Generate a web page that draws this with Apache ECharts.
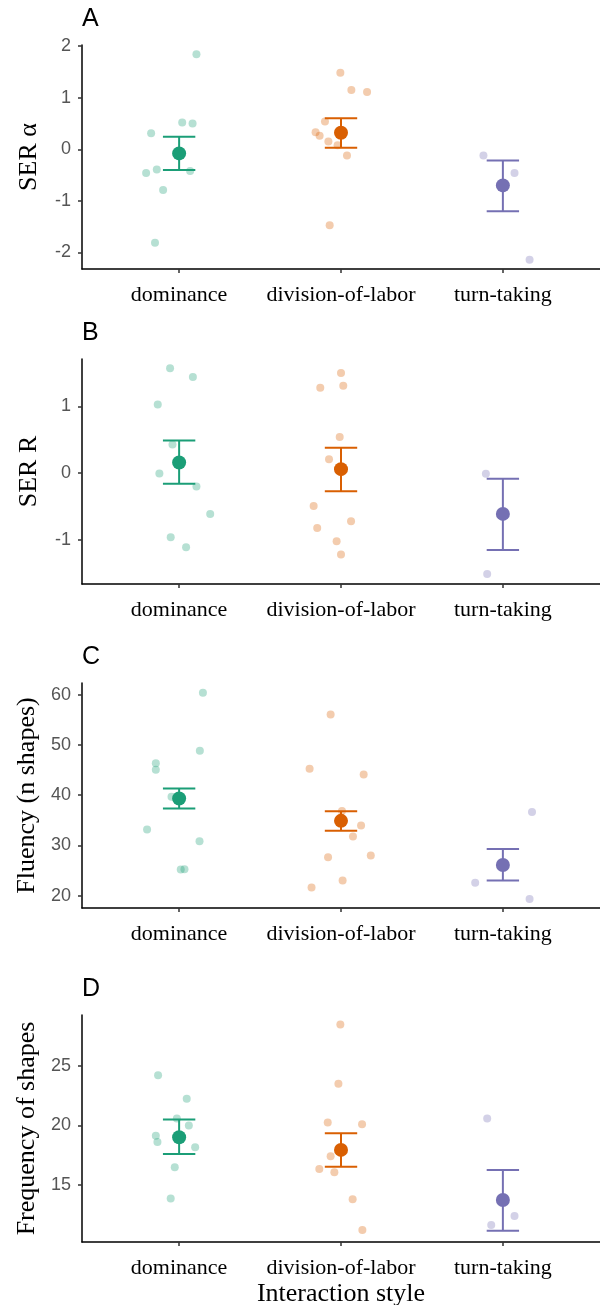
<!DOCTYPE html>
<html>
<head>
<meta charset="utf-8">
<script src="https://cdn.jsdelivr.net/npm/echarts@6/dist/echarts.min.js"></script>
<style>
html,body{margin:0;padding:0;background:#fff;}
#chart{width:600px;height:1305px;}
</style>
</head>
<body>
<div id="chart"></div>
<script>
const categories = ['dominance', 'division-of-labor', 'turn-taking'];
const groupColors = ['#1B9E77', '#D95F02', '#7570B3'];
const xTitle = 'Interaction style';

// Panel A: SER α
const serAlphaPoints = [
  [1.84, 0.52, 0.50, 0.31, -0.46, -0.39, -0.42, -0.79, -1.81],
  [1.48, 1.15, 1.11, 0.54, 0.33, 0.26, 0.15, 0.08, -0.12, -1.47],
  [-0.12, -0.46, -2.14]
];
const serAlphaJitter = [
  [0.107, 0.019, 0.083, -0.173, -0.204, -0.138, 0.068, -0.099, -0.149],
  [-0.004, 0.064, 0.161, -0.099, -0.157, -0.132, -0.078, -0.021, 0.037, -0.070],
  [-0.120, 0.072, 0.165]
];
const serAlphaMean = [-0.08, 0.32, -0.70];
const serAlphaLow = [-0.40, 0.03, -1.20];
const serAlphaHigh = [0.24, 0.60, -0.22];
const serAlphaTicks = [-2, -1, 0, 1, 2];

// Panel B: SER R
const serRPoints = [
  [1.57, 1.44, 1.03, 0.43, -0.005, -0.20, -0.61, -0.96, -1.11],
  [1.50, 1.31, 1.28, 0.54, 0.21, -0.49, -0.72, -0.82, -1.02, -1.22],
  [-0.01, -1.51]
];
const serRJitter = [
  [-0.056, 0.085, -0.132, -0.041, -0.122, 0.107, 0.192, -0.052, 0.043],
  [0.000, 0.014, -0.128, -0.008, -0.074, -0.169, 0.062, -0.147, -0.027, 0.000],
  [-0.105, -0.097]
];
const serRMean = [0.16, 0.06, -0.61];
const serRLow = [-0.16, -0.27, -1.15];
const serRHigh = [0.49, 0.38, -0.085];
const serRTicks = [-1, 0, 1];

// Panel C: Fluency
const fluencyPoints = [
  [60.38, 48.83, 46.37, 45.05, 39.67, 33.16, 30.84, 25.19, 25.26],
  [56.07, 45.25, 44.12, 36.88, 33.96, 31.77, 27.98, 27.65, 23.0, 21.61],
  [36.68, 22.6, 19.35]
];
const fluencyJitter = [
  [0.147, 0.128, -0.144, -0.144, -0.047, -0.198, 0.126, 0.010, 0.033],
  [-0.064, -0.194, 0.140, 0.006, 0.124, 0.074, 0.184, -0.080, 0.010, -0.182],
  [0.180, -0.171, 0.165]
];
const fluencyMean = [39.34, 34.89, 26.12];
const fluencyLow = [37.34, 32.90, 23.0];
const fluencyHigh = [41.33, 36.81, 29.31];
const fluencyTicks = [20, 30, 40, 50, 60];

// Panel D: Frequency of shapes
const frequencyPoints = [
  [24.24, 22.25, 20.59, 20.0, 19.13, 18.62, 18.17, 16.49, 13.85],
  [28.51, 23.51, 20.25, 20.11, 17.42, 16.35, 16.07, 13.79, 11.21],
  [20.59, 12.39, 11.63]
];
const frequencyJitter = [
  [-0.130, 0.047, -0.014, 0.060, -0.144, -0.134, 0.099, -0.027, -0.052],
  [-0.004, -0.016, -0.082, 0.130, -0.064, -0.134, -0.041, 0.072, 0.132],
  [-0.097, 0.072, -0.072]
];
const frequencyMean = [19.02, 17.95, 13.74];
const frequencyLow = [17.61, 16.54, 11.15];
const frequencyHigh = [20.51, 19.35, 16.26];
const frequencyTicks = [15, 20, 25];

const panelLetters = ['A', 'B', 'C', 'D'];
const panelTitles = ['SER α', 'SER R', 'Fluency (n shapes)', 'Frequency of shapes'];
const panelRanges = [[-2.32, 2.02], [-1.66, 1.71], [17.55, 62.33], [10.2, 29.3]];

const panels = [
  { points: serAlphaPoints, jitter: serAlphaJitter, mean: serAlphaMean, low: serAlphaLow, high: serAlphaHigh, ticks: serAlphaTicks },
  { points: serRPoints, jitter: serRJitter, mean: serRMean, low: serRLow, high: serRHigh, ticks: serRTicks },
  { points: fluencyPoints, jitter: fluencyJitter, mean: fluencyMean, low: fluencyLow, high: fluencyHigh, ticks: fluencyTicks },
  { points: frequencyPoints, jitter: frequencyJitter, mean: frequencyMean, low: frequencyLow, high: frequencyHigh, ticks: frequencyTicks }
];

// layout (pixels)
const gridTops = [45, 359, 683, 1015];
const gridHeights = [224, 225, 225, 227];
const plotLeft = 82;
const capHalf = 0.1;
const catPositions = categories.map((c, i) => i + 1);

const chart = echarts.init(document.getElementById('chart'), null, { renderer: 'canvas' });

const grids = [], xAxes = [], yAxes = [], series = [], graphics = [];

panels.forEach((p, k) => {
  grids.push({ left: plotLeft, right: 0, top: gridTops[k], height: gridHeights[k], containLabel: false, outerBoundsMode: 'none' });
  xAxes.push({
    gridIndex: k, type: 'value', min: 0.4, max: 3.6,
    axisLine: { show: true, onZero: false, lineStyle: { color: '#000', width: 1.5 } },
    axisTick: { show: true, customValues: catPositions, length: 4, lineStyle: { color: '#333', width: 1.5 } },
    axisLabel: {
      customValues: catPositions, margin: 15,
      formatter: v => categories[Math.round(v) - 1],
      fontFamily: 'Liberation Serif', fontSize: 22, color: '#000'
    },
    splitLine: { show: false },
    name: k === 3 ? xTitle : '', nameLocation: 'middle', nameGap: 39,
    nameTextStyle: { fontFamily: 'Liberation Serif', fontSize: 26, color: '#000' }
  });
  yAxes.push({
    gridIndex: k, type: 'value', min: panelRanges[k][0], max: panelRanges[k][1],
    axisLine: { show: true, onZero: false, lineStyle: { color: '#000', width: 1.5 } },
    axisTick: { show: true, customValues: p.ticks, length: 4, lineStyle: { color: '#333', width: 1.5 } },
    axisLabel: { customValues: p.ticks, margin: 11, fontFamily: 'Liberation Sans', fontSize: 18, color: '#555' },
    splitLine: { show: false },
    name: panelTitles[k], nameLocation: 'middle', nameGap: 40, nameRotate: 90,
    nameTextStyle: { fontFamily: 'Liberation Serif', fontSize: 26, color: '#000' }
  });
  // jittered raw points
  p.points.forEach((vals, g) => {
    series.push({
      type: 'scatter', xAxisIndex: k, yAxisIndex: k, symbol: 'circle', symbolSize: 8,
      silent: true, z: 2,
      itemStyle: { color: groupColors[g], opacity: 0.32 },
      data: vals.map((v, i) => [catPositions[g] + p.jitter[g][i], v])
    });
  });
  // error bars
  series.push({
    type: 'custom', xAxisIndex: k, yAxisIndex: k, z: 3, silent: true,
    encode: { x: 0, y: [1, 2] },
    data: p.mean.map((m, g) => [catPositions[g], p.low[g], p.high[g], g]),
    renderItem: (params, api) => {
      const x = api.value(0), lo = api.value(1), hi = api.value(2), g = api.value(3);
      const a = api.coord([x, lo]), b = api.coord([x, hi]);
      const l = api.coord([x - capHalf, lo])[0], r = api.coord([x + capHalf, lo])[0];
      const st = { stroke: groupColors[g], lineWidth: 2 };
      return {
        type: 'group', children: [
          { type: 'line', shape: { x1: a[0], y1: a[1], x2: b[0], y2: b[1] }, style: st },
          { type: 'line', shape: { x1: l, y1: a[1], x2: r, y2: a[1] }, style: st },
          { type: 'line', shape: { x1: l, y1: b[1], x2: r, y2: b[1] }, style: st }
        ]
      };
    }
  });
  // means
  series.push({
    type: 'scatter', xAxisIndex: k, yAxisIndex: k, symbol: 'circle', symbolSize: 14, z: 4, silent: true,
    data: p.mean.map((m, g) => ({ value: [catPositions[g], m], itemStyle: { color: groupColors[g], opacity: 1 } }))
  });
  graphics.push({
    type: 'text', left: 82, top: gridTops[k] - 38,
    style: { text: panelLetters[k], fontFamily: 'Liberation Sans', fontSize: 25, fill: '#000' }
  });
});

chart.setOption({
  animation: false,
  backgroundColor: '#fff',
  grid: grids, xAxis: xAxes, yAxis: yAxes, series: series, graphic: graphics
});
</script>
</body>
</html>
